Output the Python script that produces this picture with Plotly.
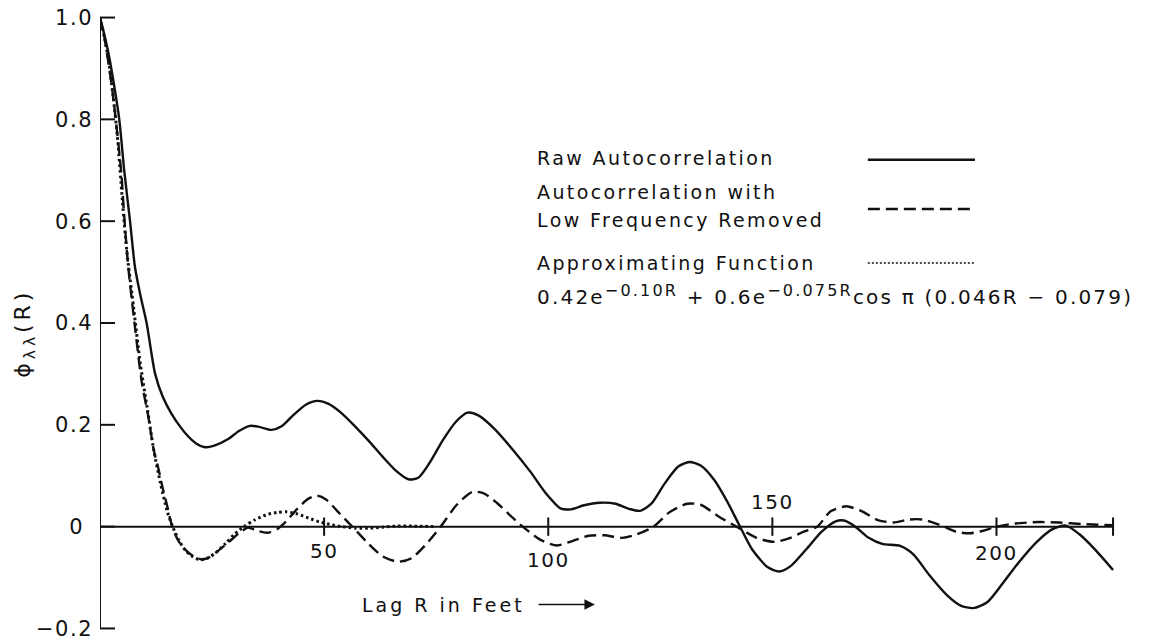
import plotly.graph_objects as go

# Raw autocorrelation of the profile, lag R in feet
lag_raw = [0, 1, 2, 3, 4.3, 5.4, 6.7, 7.8, 9.0, 10.4, 12.3, 14.0, 16.0, 18.0, 19.7,
           21.5, 23.4, 25.5, 28.6, 31.0, 33.5, 35.5, 38.3, 40.5, 43, 46, 48.5, 51,
           54, 57, 60, 63, 66, 68.8, 71, 73.5, 76.5, 79.5, 82, 84.5, 88, 92, 96,
           99.5, 102.7, 105, 108, 111.5, 115, 118, 120.5, 123, 126, 129, 131.5,
           134, 137, 140, 142.5, 145.5, 149, 151.5, 154, 157.5, 161, 164, 166,
           168.5, 171.5, 174.5, 178.5, 181.5, 185, 189, 192, 194.8, 198, 201.5,
           205, 209, 212.5, 215.5, 218.5, 222, 226]
raw_acf = [1.0, 0.965, 0.925, 0.875, 0.80, 0.70, 0.60, 0.51, 0.455, 0.40, 0.30, 0.255,
           0.221, 0.195, 0.177, 0.163, 0.156, 0.159, 0.172, 0.188, 0.198, 0.196, 0.190,
           0.197, 0.218, 0.240, 0.247, 0.241, 0.222, 0.196, 0.168, 0.138, 0.110, 0.093,
           0.096, 0.125, 0.170, 0.207, 0.224, 0.218, 0.192, 0.152, 0.108, 0.065, 0.036,
           0.034, 0.042, 0.047, 0.045, 0.035, 0.031, 0.045, 0.085, 0.118, 0.127, 0.120,
           0.092, 0.048, 0.005, -0.045, -0.080, -0.088, -0.078, -0.045, -0.010, 0.010,
           0.012, 0.0, -0.022, -0.034, -0.038, -0.055, -0.095, -0.135, -0.155, -0.160,
           -0.148, -0.110, -0.070, -0.030, -0.005, 0.002, -0.015, -0.045, -0.085]

# Autocorrelation after the low-frequency component is removed
lag_filtered = [0, 1, 2, 3, 4, 4.8, 5.4, 6.3, 7.7, 9.3, 10.8, 12.0, 13.0, 14.0, 14.9,
                16.1, 17.5, 19, 20.8, 22.5, 24, 26, 28.5, 31, 33, 35, 37.3, 39.5, 41.5,
                44, 46.5, 48.4, 50.5, 53, 56.5, 59.5, 63, 66.5, 69.5, 72.5, 76, 79.5,
                83, 85.5, 88.5, 92, 95, 98.5, 102, 105.5, 109, 112.5, 116.5, 119.5,
                123.5, 127, 131, 134, 138, 142.6, 146.5, 150.5, 154, 157, 160, 163,
                166.5, 170, 173.5, 177, 180.5, 183.5, 187.5, 191, 194, 197, 200, 204,
                209.5, 214, 219, 226]
filtered_acf = [1.0, 0.96, 0.905, 0.84, 0.76, 0.69, 0.61, 0.51, 0.40, 0.285, 0.215,
                0.15, 0.115, 0.075, 0.044, 0.0, -0.028, -0.045, -0.058, -0.064, -0.062,
                -0.050, -0.032, -0.013, -0.002, -0.008, -0.012, -0.005, 0.010, 0.035,
                0.055, 0.061, 0.053, 0.030, -0.002, -0.030, -0.058, -0.069, -0.062,
                -0.037, 0.0, 0.042, 0.068, 0.066, 0.047, 0.018, -0.005, -0.027, -0.037,
                -0.028, -0.018, -0.017, -0.022, -0.016, 0.0, 0.028, 0.045, 0.043, 0.020,
                -0.003, -0.022, -0.030, -0.022, -0.010, 0.0, 0.030, 0.040, 0.030, 0.013,
                0.008, 0.014, 0.014, 0.003, -0.010, -0.013, -0.008, 0.0, 0.006, 0.009,
                0.008, 0.005, 0.003]

# Approximating function, sampled values
lag_approx = [0, 1, 2, 3, 4, 5, 6, 7.5, 9, 10.5, 12, 13.5, 15, 16.2, 17.5, 19, 20.5,
              22.3, 24, 26, 28, 30, 32.4, 34.5, 37, 39.5, 41.6, 44, 46.5, 49, 51.5,
              54, 57, 60, 63, 66, 70, 75]
approx_acf = [1.0, 0.96, 0.91, 0.84, 0.755, 0.64, 0.54, 0.43, 0.32, 0.235, 0.15, 0.085,
              0.03, 0.0, -0.025, -0.046, -0.058, -0.065, -0.062, -0.050, -0.033, -0.015,
              0.002, 0.013, 0.023, 0.028, 0.029, 0.025, 0.017, 0.009, 0.004, 0.0,
              -0.003, -0.003, -0.001, 0.001, 0.001, 0.0]

y_tick_vals = [-0.2, 0, 0.2, 0.4, 0.6, 0.8, 1.0]
y_tick_text = ["−0.2", "0", "0.2", "0.4", "0.6", "0.8", "1.0"]
x_tick_vals = [50, 100, 150, 200]
x_tick_text = ["50", "100", "150", "200"]
x_axis_end = 226

legend_labels = ["Raw Autocorrelation", "Autocorrelation with",
                 "Low Frequency Removed", "Approximating Function"]
x_title = "Lag R in Feet"
y_title = "ϕ<sub>λλ</sub>(R)"

FONT = "DejaVu Sans"
INK = "#111111"


def spaced(text, px):
    return f'<span style="letter-spacing:{px}px">{text}</span>'


def sup(text):
    return f'<sup><span style="font-size:16px">{text}</span></sup>'


formula_text = ("0.42e" + sup("−0.10R") + " + 0.6e" + sup("−0.075R")
                + "cos π (0.046R − 0.079)")

fig = go.Figure()

line_common = dict(color=INK, shape="spline", smoothing=0.7)
fig.add_trace(go.Scatter(x=lag_raw, y=raw_acf, mode="lines",
                         line=dict(width=2.4, **line_common)))
fig.add_trace(go.Scatter(x=lag_filtered, y=filtered_acf, mode="lines",
                         line=dict(width=2.4, dash="12px,6px", **line_common)))
fig.add_trace(go.Scatter(x=lag_approx, y=approx_acf, mode="lines",
                         line=dict(width=3.0, dash="2.5px,3px", **line_common)))

shapes = []
axis_line = dict(color=INK, width=2)
# vertical axis with inward ticks
shapes.append(dict(type="line", xref="x", yref="y", x0=0, x1=0,
                   y0=y_tick_vals[0], y1=y_tick_vals[-1], line=axis_line))
for yv in y_tick_vals:
    shapes.append(dict(type="line", xref="x", yref="y", x0=0, x1=3.35, y0=yv, y1=yv,
                       line=axis_line))
# zero line with its tick marks crossing it
shapes.append(dict(type="line", xref="x", yref="y", x0=0, x1=x_axis_end, y0=0, y1=0,
                   line=axis_line))
for xv in x_tick_vals + [x_axis_end]:
    shapes.append(dict(type="line", xref="x", yref="y", x0=xv, x1=xv,
                       y0=-0.018, y1=0.018, line=axis_line))

annotations = []
label_y = {50: -0.048, 100: -0.066, 150: 0.048, 200: -0.051}
for xv, txt in zip(x_tick_vals, x_tick_text):
    annotations.append(dict(x=xv, y=label_y[xv], xref="x", yref="y", text=spaced(txt, 1.5),
                            showarrow=False, xanchor="center", yanchor="middle",
                            font=dict(family=FONT, size=20, color=INK)))

# axis titles
annotations.append(dict(x=58.0, y=-0.153, xref="x", yref="y", text=spaced(x_title, 3),
                        showarrow=False, xanchor="left", yanchor="middle",
                        font=dict(family=FONT, size=19, color=INK)))
annotations.append(dict(x=110.4, y=-0.153, ax=97.5, ay=-0.153, xref="x", yref="y",
                        axref="x", ayref="y", text="", showarrow=True, arrowhead=2,
                        arrowsize=1.3, arrowwidth=1.6, arrowcolor=INK))
annotations.append(dict(x=-0.0735, y=0.484, xref="paper", yref="paper",
                        text=spaced(y_title, 4), showarrow=False, textangle=-90,
                        xanchor="center", yanchor="middle",
                        font=dict(family=FONT, size=22, color=INK)))

# key
key_text_y = [0.7246, 0.658, 0.603, 0.518]
for txt, yv in zip(legend_labels, key_text_y):
    annotations.append(dict(x=97.1, y=yv, xref="x", yref="y", text=spaced(txt, 2.4),
                            showarrow=False, xanchor="left", yanchor="middle",
                            font=dict(family=FONT, size=19, color=INK)))
annotations.append(dict(x=97.1, y=0.455, xref="x", yref="y", text=spaced(formula_text, 2.2),
                        showarrow=False, xanchor="left", yanchor="middle",
                        font=dict(family=FONT, size=20, color=INK)))
key_samples = [(0.7206, "solid", 2.4), (0.624, "12px,6px", 2.4), (0.518, "2px,2px", 1.6)]
for yv, dash, w in key_samples:
    shapes.append(dict(type="line", xref="x", yref="y", x0=171.3, x1=195.2, y0=yv, y1=yv,
                       line=dict(color=INK, width=w, dash=dash)))

zero_label = [spaced(t, 1.5) + ("\u2008\u200a" if t == "0" else "") for t in y_tick_text]

fig.update_layout(
    width=1154, height=641,
    margin=dict(l=100, r=32, t=15, b=10),
    paper_bgcolor="white", plot_bgcolor="white",
    showlegend=False,
    xaxis=dict(range=[0, 228], showgrid=False, zeroline=False, showline=False,
               showticklabels=False, ticks="", automargin=False),
    yaxis=dict(range=[-0.205, 1.005], showgrid=False, zeroline=False, showline=False,
               ticks="", tickvals=y_tick_vals, ticktext=zero_label,
               ticklabelstandoff=6, automargin=False,
               tickfont=dict(family=FONT, size=21, color=INK)),
    shapes=shapes,
    annotations=annotations,
)

fig.write_html("out.html")
